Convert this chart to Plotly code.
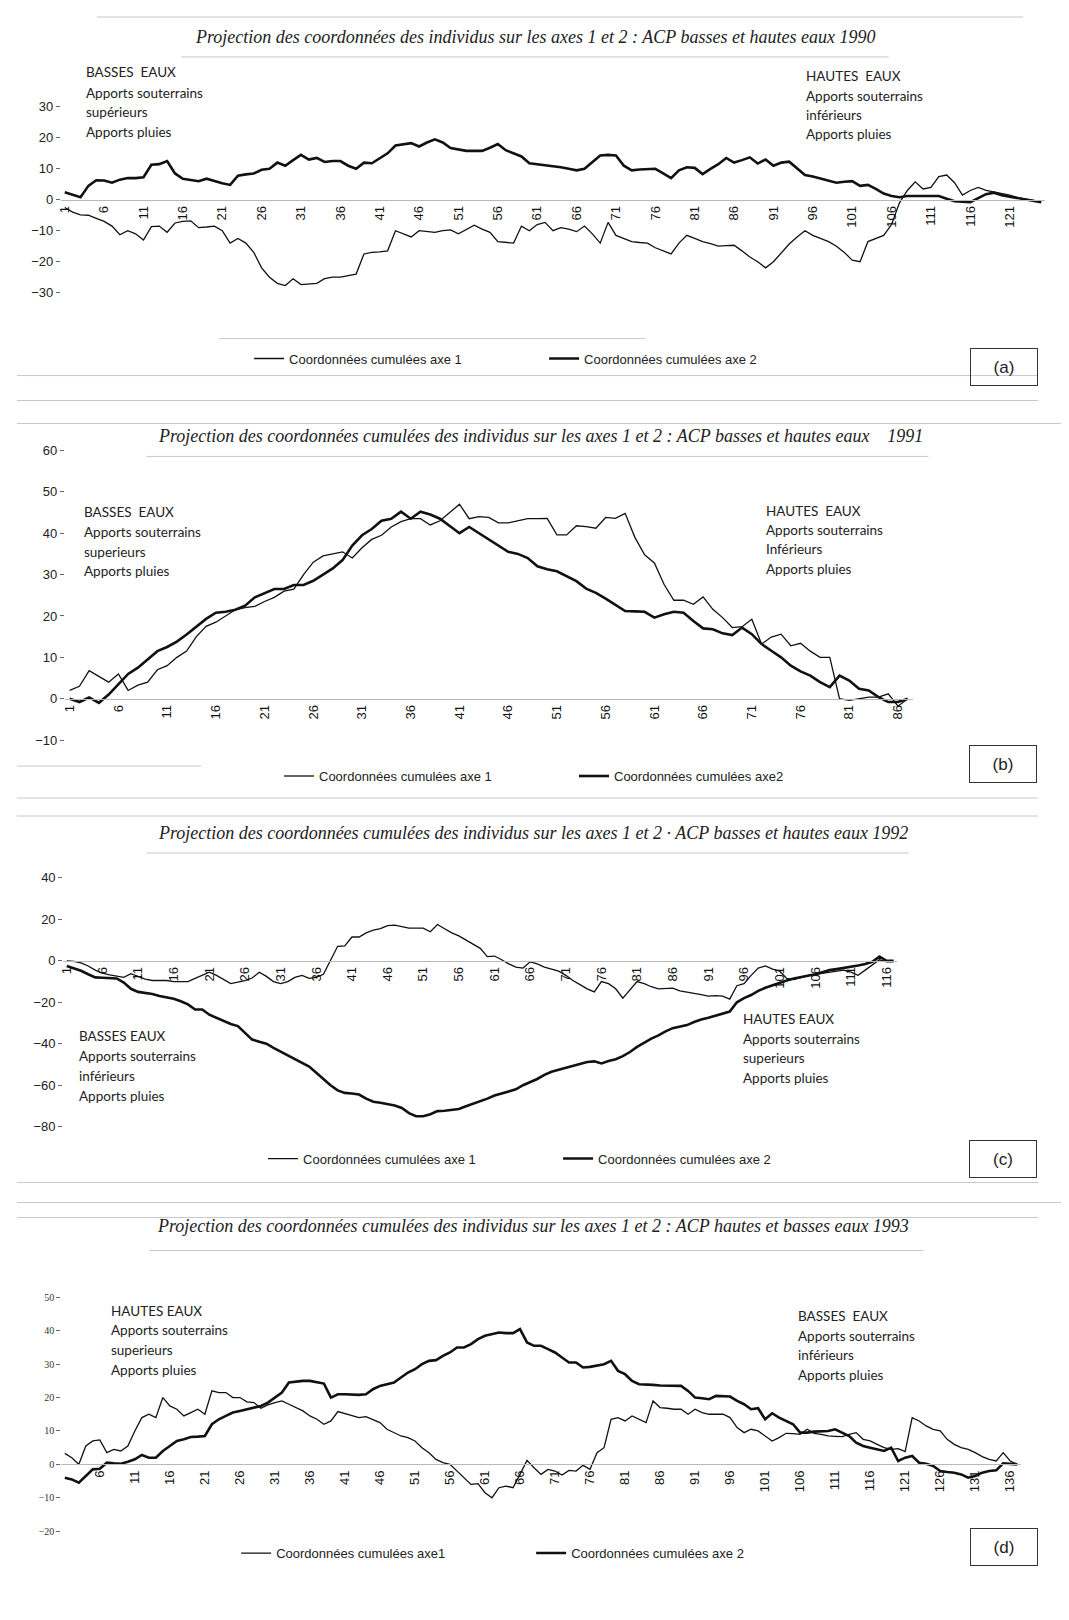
import plotly.graph_objects as go

W, H = 1069, 1620

# ---------------- DATA ----------------
# (a) 1990 : 125 individus
A_AXE1 = [-2.5,-4,-4.9,-5,-6,-7,-8.5,-11.3,-10,-11,
          -13,-8.7,-8.5,-10.5,-7.5,-7,-6.8,-9,-8.8,-8.5,
          -10,-14,-12.5,-14,-17,-22,-25,-27,-27.7,-25.5,
          -27.4,-27.2,-27,-25.5,-25,-25,-24.5,-24,-17.5,-17,
          -16.8,-16.5,-10,-11,-12,-10,-10.2,-10.5,-10,-9.7,
          -11,-9.5,-8.2,-9.5,-10.5,-13.5,-13.8,-14,-8.5,-10,
          -8,-7.3,-10,-9,-9.5,-10.3,-8.5,-11,-14,-7.3,
          -11.5,-12.5,-13.5,-13.8,-14,-15.5,-16.5,-17.5,-14,-11.5,
          -12.5,-13.5,-14.2,-15,-14.8,-14.7,-16.5,-18.5,-20,-22,
          -20,-17,-14.3,-12,-10,-11.5,-12.5,-13.5,-15,-17,
          -19.5,-20,-13.5,-12.5,-11.5,-8,-1,3,5.8,3.5,
          4,7.5,8,5.5,1.5,3,4,3,2.5,2,
          1.5,0.7,0.3,-0.3,-0.7]
A_AXE2 = [2.4,1.6,0.8,4.5,6.3,6.2,5.5,6.5,7,7,
          7.3,11.3,11.5,12.5,8.5,6.8,6.5,6,6.8,6,
          5.3,4.8,7.8,8.2,8.5,9.7,10,12,11,12.8,
          14.5,13,13.5,12.2,12.5,12.5,11,10,12,11.8,
          13.5,15,17.5,18,18.3,17.2,18.5,19.5,18.5,16.7,
          16.3,15.8,15.8,15.8,16.8,18,16,15,14,11.8,
          11.5,11,10.8,10.5,10,9.5,10,12,14.3,14.5,
          14.3,11,9.5,9.8,10,10,8.5,7,9.5,10.5,
          10.3,8.3,10,11.5,13.5,12,12.8,13.7,11.7,13,
          11,12,12.3,10,8,7.5,6.8,6,5.5,5.8,
          6,4.5,4.8,3.5,2,1.2,0.8,1.2,1.2,1.2,
          1.2,1.2,0.3,-0.5,-0.6,-0.8,0.5,1.8,2.3,1.5,
          1,0.5,0,-0.5,-0.8]

# (b) 1991 : 87 individus
B_AXE1 = [2,3,6.8,5.5,4,6,2,3.3,4,7,
          8,10,11.5,15,17.5,18.5,20,21.5,22,22.3,
          23.5,24.5,26,26.5,30,33,34.5,35,35.5,34,
          36.5,38.5,39.5,41.5,42.8,43.5,43.5,42,43,45,
          47,43.5,44,43.8,42.5,42.5,43,43.5,43.5,43.6,
          39.6,39.6,41.8,41.6,41.2,43.8,43.6,44.8,39,34.8,
          32.8,27.6,23.8,23.8,22.8,24.6,21.6,19.6,17.2,17.4,
          19.2,13.2,14.9,15.6,12.8,13.4,11.5,10,10,0,
          -0.4,0,0.4,0.4,1.2,-1.8,0]
B_AXE2 = [0,-0.8,0.3,-1,1,3.5,6,7.5,9.5,11.5,
          12.5,13.8,15.5,17.5,19.3,20.8,21,21.5,22.5,24.5,
          25.5,26.5,26.5,27.5,27.5,28.5,30,31.5,33.5,37,
          39.5,41,43,43.5,45.2,43.5,45.2,44.5,43.5,41.8,
          40,41.5,40,38.5,37,35.5,35,34,32,31.3,
          30.8,29.5,28.4,26.6,25.6,24.2,22.6,21.2,21.1,21,
          19.6,20.4,21,20.8,18.8,17,16.8,15.8,15.4,17.2,
          15.6,13.2,11.6,10,8,6.6,5.6,4,2.8,5.6,
          4.4,2.4,2,0.4,-0.8,-0.8,0]

# (c) 1992 : 117 individus
C_AXE1 = [0,-0.3,-1,-2.5,-4.5,-6,-6.8,-7.3,-8,-6.2,
          -7.5,-8.8,-9.5,-9.5,-9.5,-10,-10,-10,-8.5,-7,
          -5.5,-7,-9,-11,-10.3,-9.5,-8.3,-5.5,-7.5,-10,
          -11,-10,-8,-7,-8.5,-8,-6.5,0,7,7.2,
          11.5,11.5,13.5,14.8,15.5,17,17.2,16.5,15.8,15.8,
          15.8,14,17.5,15.5,13.5,12,10,8,6,2,
          2.3,0.5,-1.5,-3,-3.5,-0.5,-1.5,-3,-4,-5,
          -7,-9.5,-11.5,-13.5,-15,-10,-11,-13.5,-18,-14,
          -10,-11,-12.5,-13.5,-13.2,-13.2,-14.5,-15,-15.5,-16.3,
          -17,-16.8,-17,-18.5,-12,-11,-7,-3.5,-2.5,-4,
          -5,-8.5,-9,-8,-7,-6.5,-6,-5.5,-5,-4.5,
          -5.5,-7,-4.5,-2,0.5,-0.5,-0.5]
C_AXE2 = [-2.5,-3.5,-4.8,-6.5,-8,-8.2,-8.4,-8.5,-10.5,-13.5,
          -15,-15.5,-16,-17,-17.8,-18.3,-19.5,-21,-23.5,-23.5,
          -26,-27.5,-29,-30.5,-31.5,-35,-38,-39,-40,-42,
          -43.8,-45.5,-47.5,-49.5,-51,-54,-57,-60,-62.5,-63.7,
          -64,-64.5,-66.5,-68,-68.5,-69.2,-69.8,-71,-73.5,-75,
          -75,-74,-72.5,-72.3,-72,-71.5,-70.2,-69,-68,-66.5,
          -65,-64,-63,-62,-60,-58.5,-57,-55,-53.5,-52.5,
          -51.5,-50.5,-49.5,-48.8,-48.5,-49.5,-48.3,-47.5,-46,-44,
          -41.5,-39.5,-37.5,-36,-34,-32.5,-31.8,-31,-29.5,-28.3,
          -27.5,-26.5,-25.5,-24.5,-20,-18,-16.5,-14.5,-13,-11.8,
          -10.5,-9.5,-8.5,-7.8,-7.3,-6.5,-5.5,-4.5,-4,-3.5,
          -3,-2.3,-1.5,-0.5,2,0,0]

# (d) 1993 : 137 individus
D_AXE1 = [3.3,2,0,5.5,7,7.3,3.5,4.5,4,5.5,
          10,14,15,14,20,17.5,16.5,14.5,15.5,16.5,
          15,22,21.5,21.5,20,20,18.7,18.5,16.8,17.8,
          18.5,19,18,17,16,14.5,13.5,12,13,15.8,
          15.2,14.5,14,14.3,13.5,12.5,10.5,9.5,8.5,8,
          7,5,3.5,1.5,0.5,0,-2,-4,-6,-5.8,
          -8.5,-10,-7,-6.5,-7,-3,1.2,-1,-3,-1.5,
          -2,-3.2,-1.8,-2,-0.3,-1.5,3.5,5,13.5,14,
          13,14.5,13.5,12.5,19,17,16.8,16.5,16.5,15,
          16.5,15.5,15,15,15,14,11,9.5,10.5,10,
          8.5,7,8,9.3,9.2,9,10.5,9.3,9,8.5,
          8.4,8.3,9,9.5,7.5,7,6,5,4.5,4.7,
          3.8,14,13,11.5,10.5,10,7.5,6,5,4.5,
          3.5,2.3,1.5,1,3.5,1,0]
D_AXE2 = [-4,-4.5,-5.5,-3.5,-1.5,-1.3,0.5,0.3,0.2,0.8,
          1.5,2.8,2,2,4,5.5,7,7.5,8.2,8.3,
          8.5,12,13.5,14.5,15.5,16,16.5,17,17.5,18.5,
          20,21.5,24.5,24.8,25,25,24.5,24.2,20,21,
          21,20.8,20.8,21,22.5,23.5,24,24.5,26,27.5,
          28.5,30,31,31.2,32.5,33.5,35,35,36,37.5,
          38.5,39,39.5,39.3,39.3,40.5,36.5,35.5,35.5,34.5,
          33.5,32,30.5,30.5,29,29.2,29.5,30,31,28,
          27,25,24,24,23.8,23.6,23.5,23.5,23.5,22,
          20,19.8,19.5,20.5,20.5,20.3,19,18,16.5,16.8,
          13.5,15.3,14,13,12,9.5,9.5,9.8,9.8,10,
          10.5,9.5,8.5,6.5,5.5,5,4.5,4,5,1,
          2,2.5,0.5,0.2,-0.5,-2,-2.3,-2.5,-3,-4,
          -3.5,-2.5,-2,-1.8,0.3,0.2,0]

TITLES = [
    "Projection des coordonnées des individus sur les axes 1 et 2 : ACP basses et hautes eaux 1990",
    "Projection des coordonnées cumulées des individus sur les axes 1 et 2 : ACP basses et hautes eaux    1991",
    "Projection des coordonnées cumulées des individus sur les axes 1 et 2 · ACP basses et hautes eaux 1992",
    "Projection des coordonnées cumulées des individus sur les axes 1 et 2 : ACP hautes et basses eaux 1993",
]
LEG1 = ["Coordonnées cumulées axe 1", "Coordonnées cumulées axe 1",
        "Coordonnées cumulées axe 1", "Coordonnées cumulées axe1"]
LEG2 = ["Coordonnées cumulées axe 2", "Coordonnées cumulées axe2",
        "Coordonnées cumulées axe 2", "Coordonnées cumulées axe 2"]
LABELS = ["(a)", "(b)", "(c)", "(d)"]
LEFT_TXT = [
    ["BASSES  EAUX", "Apports souterrains", "supérieurs", "Apports pluies"],
    ["BASSES  EAUX", "Apports souterrains", "superieurs", "Apports pluies"],
    ["BASSES EAUX", "Apports souterrains", "inférieurs", "Apports pluies"],
    ["HAUTES EAUX", "Apports souterrains", "superieurs", "Apports pluies"],
]
RIGHT_TXT = [
    ["HAUTES  EAUX", "Apports souterrains", "inférieurs", "Apports pluies"],
    ["HAUTES  EAUX", "Apports souterrains", "Inférieurs", "Apports pluies"],
    ["HAUTES EAUX", "Apports souterrains", "superieurs", "Apports pluies"],
    ["BASSES  EAUX", "Apports souterrains", "inférieurs", "Apports pluies"],
]
XTICKS = [
    list(range(1, 126, 5)),
    list(range(1, 88, 5)),
    list(range(1, 118, 5)),
    list(range(6, 138, 5)),
]

# ---------------- LAYOUT GEOMETRY (pixels) ----------------
def P(py):
    return 1 - py / H

def X(px):
    return px / W

panels = [
    dict(a1=A_AXE1, a2=A_AXE2, yr=[-32, 32], dt=10, yd=(91.8, 290.2), xd=(49, 1037),
         title_y=28, title_x=525, leg_x=238, leg_y=350, box=(996, 358),
         left=(72, [63, 84, 103, 123]), right=(795, [67, 87, 106, 125]),
         tfont=dict(family="Liberation Sans", size=13, color="#222")),
    dict(a1=B_AXE1, a2=B_AXE2, yr=[-12, 62], dt=10, yd=(433.7, 740.3), xd=(53, 904),
         title_y=428, title_x=530, leg_x=268, leg_y=768, box=(995, 756),
         left=(70, [504, 524, 544, 563]), right=(755, [503, 522, 541, 561]),
         tfont=dict(family="Liberation Sans", size=13, color="#222")),
    dict(a1=C_AXE1, a2=C_AXE2, yr=[-85, 45], dt=20, yd=(859.6, 1129.4), xd=(51.4, 888.6),
         title_y=825, title_x=523, leg_x=252, leg_y=1151, box=(995, 1151),
         left=(65, [1028, 1048, 1068, 1088]), right=(732, [1011, 1031, 1050, 1070]),
         tfont=dict(family="Liberation Sans", size=13, color="#222")),
    dict(a1=D_AXE1, a2=D_AXE2, yr=[-22, 52], dt=10, yd=(1283.3, 1530.7), xd=(49.5, 1012.5),
         title_y=1219, title_x=523, leg_x=225, leg_y=1546, box=(996, 1540),
         left=(97, [1304, 1323, 1343, 1363]), right=(787, [1309, 1329, 1348, 1368]),
         tfont=dict(family="Liberation Serif", size=10, color="#333")),
]

fig = go.Figure()
annotations = []
layout = {}
INK = "#111111"

for i, p in enumerate(panels):
    n = i + 1
    sfx = "" if n == 1 else str(n)
    xa, ya = "x" + sfx, "y" + sfx
    legname = "legend" + sfx
    xs = list(range(1, len(p["a1"]) + 1))
    fig.add_trace(go.Scatter(x=xs, y=p["a1"], mode="lines", name=LEG1[i],
                             line=dict(color=INK, width=1.3), xaxis=xa, yaxis=ya,
                             legend=legname, showlegend=True))
    fig.add_trace(go.Scatter(x=xs, y=p["a2"], mode="lines", name=LEG2[i],
                             line=dict(color=INK, width=2.6), xaxis=xa, yaxis=ya,
                             legend=legname, showlegend=True))
    yd0, yd1 = P(p["yd"][1]), P(p["yd"][0])
    r0, r1 = p["yr"]
    zero_pos = yd0 + (0 - r0) / (r1 - r0) * (yd1 - yd0)
    layout["xaxis" + sfx] = dict(
        domain=[X(p["xd"][0]), X(p["xd"][1])], range=[0.5, len(xs) + 0.5],
        anchor="free", position=zero_pos, showgrid=False, zeroline=False,
        showline=True, linecolor="#b8b8b8", linewidth=1,
        tickmode="array", tickvals=XTICKS[i], ticks="", tickangle=-90,
        tickfont=dict(family="Liberation Sans", size=13, color="#111"))
    layout["yaxis" + sfx] = dict(
        domain=[yd0, yd1], range=p["yr"], anchor=xa, dtick=p["dt"],
        showgrid=False, zeroline=False, showline=False,
        ticks="outside", ticklen=4, tickcolor="#666", tickwidth=1,
        tickfont=p["tfont"])
    layout[legname] = dict(
        orientation="h", x=X(p["leg_x"]), y=P(p["leg_y"]), xanchor="left",
        yanchor="middle", bgcolor="rgba(0,0,0,0)", entrywidth=250,
        entrywidthmode="pixels", itemwidth=30,
        font=dict(family="Liberation Sans", size=13, color="#222"))
    # title
    annotations.append(dict(
        text="<i>" + TITLES[i] + "</i>", x=X(p["title_x"]), y=P(p["title_y"]),
        xref="paper", yref="paper", showarrow=False, xanchor="center", yanchor="middle",
        font=dict(family="Liberation Serif", size=18, color="#222")))
    # side texts
    for side in ("left", "right"):
        px, pys = p[side]
        lines = LEFT_TXT[i] if side == "left" else RIGHT_TXT[i]
        for txt, py in zip(lines, pys):
            annotations.append(dict(
                text=txt, x=X(px), y=P(py), xref="paper", yref="paper",
                showarrow=False, xanchor="left", yanchor="middle",
                font=dict(family="Lato", size=13.5, color="#222")))
    # panel label box
    bx, by = p["box"]
    annotations.append(dict(
        text=LABELS[i], x=X(bx), y=P(by), xref="paper", yref="paper",
        showarrow=False, xanchor="center", yanchor="middle", width=60, height=30,
        bordercolor="#333", borderwidth=1, borderpad=3,
        font=dict(family="Liberation Sans", size=17, color="#222")))

# faint scan lines (decorative rules around titles)
RULES = [(85, 1015, 8), (170, 880, 48), (208, 636, 330), (5, 1030, 367), (5, 1030, 392),
         (5, 1060, 415), (135, 920, 448), (5, 190, 758), (5, 1030, 790), (5, 1030, 808),
         (135, 900, 845), (5, 1030, 1175), (5, 1060, 1195), (5, 1030, 1210), (138, 915, 1243)]
shapes = []
for x0, x1, yy in RULES:
    shapes.append(dict(type="line", xref="paper", yref="paper", x0=X(x0), x1=X(x1),
                       y0=P(yy), y1=P(yy), line=dict(color="#c8c8c8", width=1)))

fig.update_layout(width=W, height=H, margin=dict(l=0, r=0, t=0, b=0),
                  paper_bgcolor="white", plot_bgcolor="white",
                  annotations=annotations, shapes=shapes, **layout)

fig.write_html("out.html")
